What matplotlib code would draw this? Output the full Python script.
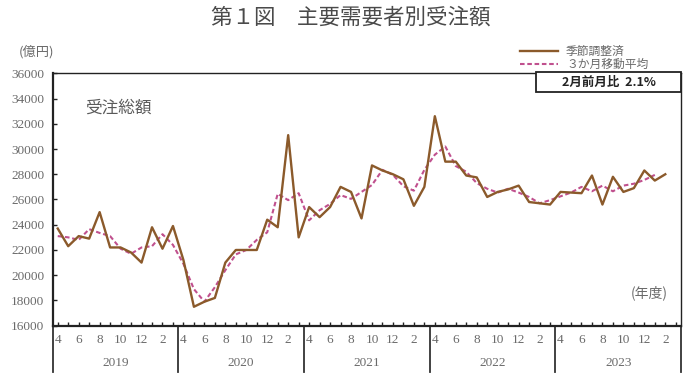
import matplotlib
matplotlib.use('Agg')
import matplotlib.pyplot as plt
import matplotlib.transforms as mtrans
from matplotlib.lines import Line2D
from matplotlib.patches import Rectangle
import numpy as np

plt.rcParams['font.family'] = ['Noto Sans CJK JP', 'DejaVu Sans']

# ---------------- data ----------------
fiscal_years = ['2019', '2020', '2021', '2022', '2023']
month_cycle = [4, 5, 6, 7, 8, 9, 10, 11, 12, 1, 2, 3]

# 季節調整済 (Apr 2019 .. Feb 2024), 億円
seasonally_adjusted = [
    23700, 22300, 23100, 22900, 25000, 22200, 22200, 21800, 21000, 23800, 22100, 23900,
    21200, 17500, 17900, 18200, 21000, 22000, 22000, 22000, 24400, 23800, 31100, 23000,
    25400, 24600, 25400, 27000, 26600, 24500, 28700, 28300, 28000, 27600, 25500, 27000,
    32600, 29000, 29000, 27900, 27750, 26200, 26600, 26800, 27100, 25800, 25700, 25600,
    26600, 26550, 26500, 27900, 25600, 27800, 26600, 26900, 28300, 27500, 28000,
]

# ３か月移動平均 (Apr 2019 .. Jan 2024)
moving_average = [
    23100, 23000, 22800, 23650, 23350, 23100, 22100, 21700, 22200, 22300, 23250, 22400,
    20900, 18900, 17900, 19050, 20400, 21650, 22000, 22800, 23400, 26450, 25950, 26500,
    24350, 25150, 25650, 26350, 26050, 26600, 27150, 28350, 27950, 27050, 26700, 28350,
    29550, 30200, 28650, 28200, 27300, 26850, 26550, 26850, 26550, 26200, 25700, 25950,
    26250, 26550, 27000, 26650, 27100, 26650, 27100, 27250, 27550, 27950,
]

y_ticks = list(range(16000, 36001, 2000))

title_text = '第１図　主要需要者別受注額'
unit_text = '(億円)'
series_title = '受注総額'
xunit_text = '(年度)'
legend_labels = ['季節調整済', '３か月移動平均']
box_text = '2月前月比  2.1%'

# ---------------- style ----------------
BROWN = '#8B5A2B'
PINK = '#C0508E'
GRAY = '#6A6A6A'
NUMFONT = 'Liberation Serif'

W, H = 688, 376
fig = plt.figure(figsize=(W / 100, H / 100), dpi=100)
ax = fig.add_axes([52.5 / W, 1 - 325.7 / H, (681 - 52.5) / W, (325.7 - 73.3) / H])

n_months = len(fiscal_years) * len(month_cycle)
x_sa = np.arange(len(seasonally_adjusted))
x_ma = np.arange(len(moving_average))

ax.plot(x_ma, moving_average, color=PINK, lw=1.5, ls=(0, (2.2, 1.3)), zorder=2)
ax.plot(x_sa, seasonally_adjusted, color=BROWN, lw=1.7, zorder=3)

ax.set_xlim(-0.5, n_months - 0.5)
ax.set_ylim(y_ticks[0], y_ticks[-1])

ax.set_yticks(y_ticks)
ax.set_yticklabels([str(v) for v in y_ticks], fontfamily=NUMFONT, fontsize=9.5, color=GRAY)

xt = np.arange(n_months)
xlabels = [str(month_cycle[i % 12]) if i % 2 == 0 else '' for i in xt]
ax.set_xticks(xt)
ax.set_xticklabels(xlabels, fontfamily=NUMFONT, fontsize=9.5, color=GRAY)

ax.tick_params(axis='both', direction='in', length=3, width=1, color='#222222')
ax.tick_params(axis='x', pad=6)
ax.tick_params(axis='y', pad=6)

for name, sp in ax.spines.items():
    sp.set_color('#222222')
    sp.set_linewidth(1.0)
ax.spines['left'].set_linewidth(1.6)
ax.spines['bottom'].set_linewidth(1.6)

# fiscal-year dividers and labels below the axis
trans = mtrans.blended_transform_factory(ax.transData, ax.transAxes)
for k in range(len(fiscal_years) + 1):
    xd = k * 12 - 0.5
    ax.add_line(Line2D([xd, xd], [0, -0.185], transform=trans, clip_on=False,
                       color='#333333', lw=1.3))
for k, fy in enumerate(fiscal_years):
    ax.text(k * 12 + 5.5, -0.148, fy, transform=trans, ha='center', va='center',
            fontfamily=NUMFONT, fontsize=9.5, color=GRAY)

# texts
fig.text(351 / W, 1 - 18 / H, title_text, ha='center', va='center', fontsize=15.5, color='#4A4A4A')
fig.text(37 / W, 1 - 52 / H, unit_text, ha='center', va='center', fontsize=9.5, color=GRAY)
fig.text(85 / W, 1 - 108 / H, series_title, ha='left', va='center', fontsize=12, color='#5A5A5A')
fig.text(668 / W, 1 - 293 / H, xunit_text, ha='right', va='center', fontsize=10, color=GRAY)

# legend (manual, above the plot at right)
fig.add_artist(Line2D([520 / W, 558 / W], [1 - 51 / H] * 2, color=BROWN, lw=1.7))
fig.add_artist(Line2D([520 / W, 558 / W], [1 - 64 / H] * 2, color=PINK, lw=1.5, ls=(0, (2.2, 1.3))))
fig.text(566 / W, 1 - 51 / H, legend_labels[0], ha='left', va='center', fontsize=8.5, color=GRAY)
fig.text(566 / W, 1 - 64 / H, legend_labels[1], ha='left', va='center', fontsize=8.5, color=GRAY)

# box with month-on-month change
fig.add_artist(Rectangle((536 / W, 1 - 92 / H), (681 - 536) / W, 20 / H, transform=fig.transFigure,
                         facecolor='white', edgecolor='#222222', lw=1.3, zorder=5))
fig.text(609 / W, 1 - 82.5 / H, box_text, ha='center', va='center', fontsize=9,
         fontweight='bold', color='#222222', zorder=6)

fig.savefig('out.png', dpi=100)
